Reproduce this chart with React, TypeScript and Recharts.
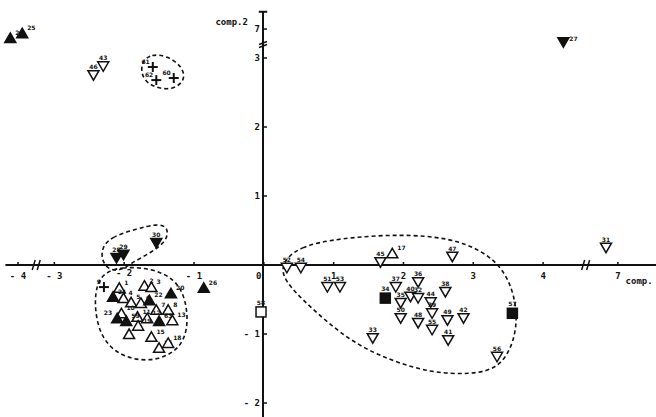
import React from 'react';
import {
  ComposedChart, Scatter, Line, XAxis, YAxis, ReferenceLine, ReferenceDot,
} from 'recharts';

const W = 656;
const H = 417;

// broken axes: real value -> drawn position
const xReal = [-10, -3.75, -3.25, 4.6, 6.55, 12];
const xDraw = [-9.5, -3.25, -3.23, 4.6, 4.62, 10.07];
const yReal = [-10, 3.2, 6.8, 12];
const yDraw = [-10, 3.2, 3.22, 8.42];

const xTicks = [-4, -3, -2, -1, 0, 1, 2, 3, 4, 7];
const yTicks = [-2, -1, 1, 2, 3, 7];

type Pt = { id: string; x: number; y: number };

const triUpOpen: Pt[] = [
  { id: '17', x: 1.84, y: 0.17 },
  { id: '1', x: -2.07, y: -0.33 }, { id: '2', x: -1.71, y: -0.3 },
  { id: '3', x: -1.61, y: -0.32 }, { id: '4', x: -2.01, y: -0.48 },
  { id: '5', x: -1.9, y: -0.54 }, { id: '6', x: -1.76, y: -0.55 },
  { id: '7', x: -1.54, y: -0.65 }, { id: '8', x: -1.37, y: -0.65 },
  { id: '10', x: -2.04, y: -0.7 }, { id: '11', x: -1.81, y: -0.75 },
  { id: '12', x: -1.67, y: -0.77 }, { id: '13', x: -1.31, y: -0.8 },
  { id: '14', x: -1.93, y: -1.0 }, { id: '15', x: -1.61, y: -1.04 },
  { id: '16', x: -1.5, y: -1.2 }, { id: '18', x: -1.37, y: -1.13 },
  { id: '19', x: -1.8, y: -0.88 },
];
const triUpFilled: Pt[] = [
  { id: '24', x: -4.11, y: 6.87 }, { id: '25', x: -3.94, y: 6.94 },
  { id: '26', x: -0.86, y: -0.33 }, { id: '20', x: -1.33, y: -0.41 },
  { id: '21', x: -2.16, y: -0.46 }, { id: '22', x: -1.64, y: -0.51 },
  { id: '23', x: -2.1, y: -0.77 }, { id: '59', x: -1.97, y: -0.81 },
  { id: '63', x: -1.5, y: -0.81 },
];
const triDownOpen: Pt[] = [
  { id: '46', x: -2.44, y: 2.75 }, { id: '43', x: -2.3, y: 2.88 },
  { id: '31', x: 6.83, y: 0.25 }, { id: '52', x: 0.33, y: -0.04 },
  { id: '54', x: 0.53, y: -0.04 }, { id: '51', x: 0.91, y: -0.32 },
  { id: '53', x: 1.09, y: -0.32 }, { id: '45', x: 1.67, y: 0.04 },
  { id: '47', x: 2.7, y: 0.12 }, { id: '33', x: 1.56, y: -1.06 },
  { id: '36', x: 2.21, y: -0.25 }, { id: '37', x: 1.89, y: -0.32 },
  { id: '35', x: 1.96, y: -0.55 }, { id: '40', x: 2.1, y: -0.46 },
  { id: '32', x: 2.21, y: -0.48 }, { id: '38', x: 2.6, y: -0.39 },
  { id: '44', x: 2.39, y: -0.54 }, { id: '39', x: 2.41, y: -0.7 },
  { id: '50', x: 1.96, y: -0.77 }, { id: '48', x: 2.21, y: -0.84 },
  { id: '55', x: 2.41, y: -0.94 }, { id: '49', x: 2.63, y: -0.8 },
  { id: '42', x: 2.86, y: -0.77 }, { id: '41', x: 2.64, y: -1.09 },
  { id: '56', x: 3.34, y: -1.33 },
];
const triDownFilled: Pt[] = [
  { id: '27', x: 4.29, y: 6.81 }, { id: '30', x: -1.54, y: 0.32 },
  { id: '28', x: -2.11, y: 0.1 }, { id: '29', x: -2.01, y: 0.15 },
];
const squareFilled: Pt[] = [
  { id: '34', x: 1.74, y: -0.48 }, { id: '57', x: 3.56, y: -0.7 },
];
const squareOpen: Pt[] = [{ id: '58', x: -0.04, y: -0.68 }];
const plusPts: Pt[] = [
  { id: '61', x: -1.59, y: 2.87 }, { id: '62', x: -1.54, y: 2.68 },
  { id: '60', x: -1.29, y: 2.71 }, { id: '9', x: -2.29, y: -0.32 },
];

// dashed group outlines
const hullTop = [[-1.76, 2.94], [-1.61, 3.06], [-1.38, 3.03], [-1.17, 2.88], [-1.12, 2.68], [-1.3, 2.54], [-1.55, 2.56], [-1.75, 2.7]];
const hullMid = [[-2.35, 0.22], [-2.19, 0.41], [-1.83, 0.52], [-1.53, 0.6], [-1.37, 0.55], [-1.38, 0.36], [-1.61, 0.18], [-1.9, 0.03], [-2.05, -0.09], [-2.28, -0.06]];
const hullLeft = [[-2.35, -0.13], [-2.04, -0.02], [-1.6, -0.05], [-1.27, -0.2], [-1.11, -0.5], [-1.08, -0.95], [-1.24, -1.26], [-1.62, -1.41], [-2.06, -1.33], [-2.36, -1.03], [-2.44, -0.5]];
const hullRight = [[0.25, 0.02], [0.5, 0.27], [1.1, 0.39], [1.96, 0.45], [2.68, 0.39], [3.12, 0.21], [3.42, -0.04], [3.6, -0.44], [3.64, -0.96], [3.42, -1.49], [2.96, -1.59], [2.38, -1.56], [1.8, -1.38], [1.22, -1.1], [0.64, -0.59], [0.28, -0.22]];

// labels drawn on the left of their marker (crowded spots)
const labelLeft = new Set(['23']);

const interp = (v: number, from: number[], to: number[]) => {
  for (let i = 1; i < from.length; i++) {
    if (v <= from[i] || i === from.length - 1) {
      const t = (v - from[i - 1]) / (from[i] - from[i - 1]);
      return to[i - 1] + t * (to[i] - to[i - 1]);
    }
  }
  return v;
};
const fx = (v: number) => interp(v, xReal, xDraw);
const fy = (v: number) => interp(v, yReal, yDraw);
const prep = (pts: Pt[]) => pts.map((p) => ({ ...p, x: fx(p.x), y: fy(p.y) }));
const prepHull = (h: number[][]) => h.map(([x, y]) => ({ x: fx(x), y: fy(y) }));

const INK = '#111';
const font = '"DejaVu Sans Mono", monospace';

const label = (x: number, y: number, id: string, anchor = 'middle') => (
  <text x={x} y={y} fontSize={6} fontWeight="bold" fontFamily="DejaVu Sans" fill={INK} textAnchor={anchor}>
    {id}
  </text>
);

const makeShape = (kind: string, filled: boolean) => (props: any) => {
  const { cx, cy } = props;
  const id = props.payload?.id ?? props.id;
  const fill = filled ? INK : '#fff';
  if (kind === 'up') {
    return (
      <g>
        <polygon points={`${cx},${cy - 5} ${cx + 5.5},${cy + 4.5} ${cx - 5.5},${cy + 4.5}`} fill={fill} stroke={INK} strokeWidth={1.5} />
        {labelLeft.has(id) ? label(cx - 5, cy - 3, id, 'end') : label(cx + 5, cy - 3, id, 'start')}
      </g>
    );
  }
  if (kind === 'down') {
    return (
      <g>
        <polygon points={`${cx - 5.5},${cy - 4.5} ${cx + 5.5},${cy - 4.5} ${cx},${cy + 5}`} fill={fill} stroke={INK} strokeWidth={1.5} />
        {id === '27' ? label(cx + 6, cy - 1, id, 'start') : label(cx, cy - 6, id)}
      </g>
    );
  }
  if (kind === 'square') {
    return (
      <g>
        <rect x={cx - 5} y={cy - 5} width={10} height={10} fill={fill} stroke={INK} strokeWidth={1.5} />
        {label(cx, cy - 7, id)}
      </g>
    );
  }
  return (
    <g>
      <line x1={cx - 5} y1={cy} x2={cx + 5} y2={cy} stroke={INK} strokeWidth={2} />
      <line x1={cx} y1={cy - 5} x2={cx} y2={cy + 5} stroke={INK} strokeWidth={2} />
      {label(cx - 3, cy - 3, id, 'end')}
    </g>
  );
};

const xTickShape = (t: number) => (p: any) => (
  <g>
    <line x1={p.cx} y1={p.cy - 3} x2={p.cx} y2={p.cy + 1} stroke={INK} strokeWidth={1.5} />
    <text x={p.cx + (t === 0 ? -5 : 0)} y={p.cy + (t === -2 ? 11 : 14)} fontSize={9} fontWeight="bold" fontFamily={font} fill={INK} textAnchor="middle">
      {t < 0 ? `- ${-t}` : t}
    </text>
  </g>
);
const yTickShape = (t: number) => (p: any) => (
  <g>
    <line x1={p.cx} y1={p.cy} x2={p.cx + 4} y2={p.cy} stroke={INK} strokeWidth={1.5} />
    <text x={p.cx - 3} y={p.cy + 3} fontSize={9} fontWeight="bold" fontFamily={font} fill={INK} textAnchor="end">
      {t < 0 ? `- ${-t}` : t}
    </text>
  </g>
);
const xBreak = (p: any) => (
  <g stroke={INK} strokeWidth={1.5}>
    <line x1={p.cx - 4} y1={p.cy + 5} x2={p.cx - 1} y2={p.cy - 5} />
    <line x1={p.cx + 1} y1={p.cy + 5} x2={p.cx + 4} y2={p.cy - 5} />
  </g>
);
const yBreak = (p: any) => (
  <g stroke={INK} strokeWidth={1.5}>
    <line x1={p.cx - 4} y1={p.cy + 1} x2={p.cx + 4} y2={p.cy - 2} />
    <line x1={p.cx - 4} y1={p.cy + 4} x2={p.cx + 4} y2={p.cy + 1} />
  </g>
);
const textShape = (s: string) => (p: any) => (
  <text x={p.cx} y={p.cy} fontSize={9} fontWeight="bold" fontFamily={font} fill={INK}>{s}</text>
);

const xDom = [-263 / 70, (W - 263) / 70];
const yDom = [(265 - H) / 69, 265 / 69];

export default function App() {
  const hulls = [hullTop, hullMid, hullLeft, hullRight];
  return (
    <div style={{ position: 'absolute', left: 0, top: 0, background: '#fff' }}>
      <ComposedChart width={W} height={H} margin={{ top: 0, right: 0, bottom: 0, left: 0 }}>
        <XAxis type="number" dataKey="x" domain={xDom} hide allowDataOverflow />
        <YAxis type="number" dataKey="y" domain={yDom} hide allowDataOverflow />
        <ReferenceLine segment={[{ x: -3.68, y: 0 }, { x: xDom[1], y: 0 }]} stroke={INK} strokeWidth={2} />
        <ReferenceLine segment={[{ x: 0, y: yDom[0] }, { x: 0, y: 3.67 }]} stroke={INK} strokeWidth={2} />
        <ReferenceLine segment={[{ x: -0.06, y: 3.67 }, { x: 0.06, y: 3.67 }]} stroke={INK} strokeWidth={2} />
        {xTicks.map((t) => (
          <ReferenceDot key={`xt${t}`} x={fx(t)} y={0} r={1} shape={xTickShape(t)} />
        ))}
        {yTicks.map((t) => (
          <ReferenceDot key={`yt${t}`} x={0} y={fy(t)} r={1} shape={yTickShape(t)} />
        ))}
        <ReferenceDot x={fx(-3.5)} y={0} r={1} shape={xBreak} />
        <ReferenceDot x={fx(5.5)} y={0} r={1} shape={xBreak} />
        <ReferenceDot x={0} y={fy(5)} r={1} shape={yBreak} />
        <ReferenceDot x={-0.68} y={3.48} r={1} shape={textShape('comp.2')} />
        <ReferenceDot x={5.18} y={-0.28} r={1} shape={textShape('comp.')} />
        {hulls.map((h, i) => (
          <Line
            key={`h${i}`}
            data={prepHull(h)}
            dataKey="y"
            type="basisClosed"
            stroke={INK}
            strokeWidth={1.6}
            strokeDasharray="4 3"
            dot={false}
            activeDot={false}
            isAnimationActive={false}
          />
        ))}
        <Scatter data={prep(triUpOpen)} shape={makeShape('up', false)} isAnimationActive={false} />
        <Scatter data={prep(triUpFilled)} shape={makeShape('up', true)} isAnimationActive={false} />
        <Scatter data={prep(triDownOpen)} shape={makeShape('down', false)} isAnimationActive={false} />
        <Scatter data={prep(triDownFilled)} shape={makeShape('down', true)} isAnimationActive={false} />
        <Scatter data={prep(squareFilled)} shape={makeShape('square', true)} isAnimationActive={false} />
        <Scatter data={prep(squareOpen)} shape={makeShape('square', false)} isAnimationActive={false} />
        <Scatter data={prep(plusPts)} shape={makeShape('plus', false)} isAnimationActive={false} />
      </ComposedChart>
    </div>
  );
}
